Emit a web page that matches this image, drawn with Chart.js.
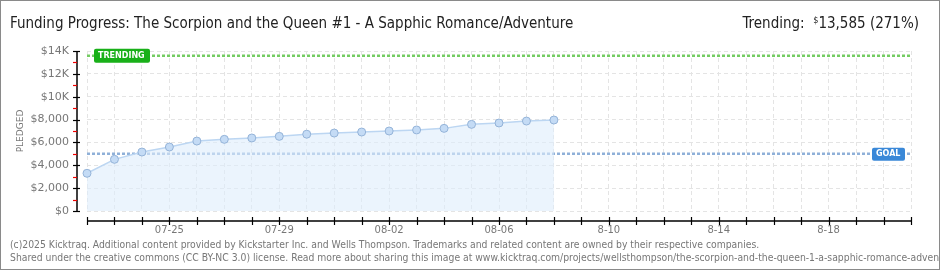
<!DOCTYPE html>
<html>
<head>
<meta charset="utf-8">
<script src="https://cdn.jsdelivr.net/npm/chart.js@4.4.1/dist/chart.umd.min.js"></script>
<style>
  html,body{margin:0;padding:0;background:#fff;}
  #wrap{position:relative;width:940px;height:270px;box-sizing:border-box;border:1px solid #8a8a8a;overflow:hidden;background:#fff;}
  canvas{position:absolute;left:0;top:0;}
  .t{position:absolute;white-space:nowrap;font-family:"Liberation Sans Narrow","DejaVu Sans Condensed","Liberation Sans",sans-serif;}
  #title{left:9px;top:13px;font-size:15px;color:#222;}
  #trend{right:20px;top:13px;font-size:15px;color:#222;}
  #trend sup{font-size:9px;vertical-align:5px;}
  .foot{left:9px;font-size:10.3px;color:#777;}
</style>
</head>
<body>
<div id="wrap">
  <canvas id="c" width="940" height="270"></canvas>
  <div class="t" id="title">Funding Progress: The Scorpion and the Queen #1 - A Sapphic Romance/Adventure</div>
  <div class="t" id="trend">Trending:&nbsp; <sup>$</sup>13,585 (271%)</div>
  <div class="t foot" style="top:237px">(c)2025 Kicktraq. Additional content provided by Kickstarter Inc. and Wells Thompson. Trademarks and related content are owned by their respective companies.</div>
  <div class="t foot" style="top:250px">Shared under the creative commons (CC BY-NC 3.0) license. Read more about sharing this image at www.kicktraq.com/projects/wellsthompson/the-scorpion-and-the-queen-1-a-sapphic-romance-adventure/</div>
</div>
<script>
const xLabels = ['07-22','07-23','07-24','07-25','07-26','07-27','07-28','07-29','07-30','07-31',
  '08-01','08-02','08-03','08-04','08-05','08-06','08-07','08-08','8-09','8-10',
  '8-11','8-12','8-13','8-14','8-15','8-16','8-17','8-18','8-19','8-20','8-21'];
const shownTicks = ['07-25','07-29','08-02','08-06','8-10','8-14','8-18'];
const pledged = [3300,4520,5160,5600,6120,6270,6390,6530,6720,6820,6910,7000,7090,7230,7580,7700,7870,7960];
const goalValue = 5000;
const trendingValue = 13585;
const yTickLabels = {0:'$0',2000:'$2,000',4000:'$4,000',6000:'$6,000',8000:'$8,000',10000:'$10K',12000:'$12K',14000:'$14K'};

const goalLine = xLabels.map(() => goalValue);
const trendLine = xLabels.map(() => trendingValue);

function roundRect(ctx,x,y,w,h,r){
  ctx.beginPath();
  ctx.moveTo(x+r,y);ctx.lineTo(x+w-r,y);ctx.quadraticCurveTo(x+w,y,x+w,y+r);
  ctx.lineTo(x+w,y+h-r);ctx.quadraticCurveTo(x+w,y+h,x+w-r,y+h);
  ctx.lineTo(x+r,y+h);ctx.quadraticCurveTo(x,y+h,x,y+h-r);
  ctx.lineTo(x,y+r);ctx.quadraticCurveTo(x,y,x+r,y);ctx.closePath();
}

const axesPlugin = {
  id:'axesPlugin',
  afterDraw(chart){
    const ctx = chart.ctx, ca = chart.chartArea;
    const xs = chart.scales.x, ys = chart.scales.y;
    ctx.save();
    const ay = ca.bottom + 10;
    ctx.strokeStyle = '#000'; ctx.lineWidth = 1.5;
    ctx.beginPath(); ctx.moveTo(ca.left, ay); ctx.lineTo(ca.right, ay); ctx.stroke();
    ctx.lineWidth = 1.2;
    for (let i = 0; i < xLabels.length; i++) {
      const px = Math.round(xs.getPixelForValue(i)) + 0.5;
      ctx.beginPath(); ctx.moveTo(px, ay - 4); ctx.lineTo(px, ay + 4); ctx.stroke();
    }
    const ax = ca.left - 10;
    ctx.lineWidth = 1.5;
    ctx.beginPath(); ctx.moveTo(ax, ys.getPixelForValue(14000)); ctx.lineTo(ax, ys.getPixelForValue(0)); ctx.stroke();
    for (let v = 0; v <= 14000; v += 1000) {
      const py = Math.round(ys.getPixelForValue(v)) + 0.5;
      ctx.lineWidth = 1.2;
      if (v % 2000 === 0) { ctx.strokeStyle = '#000'; ctx.beginPath(); ctx.moveTo(ax - 4, py); ctx.lineTo(ax + 3, py); ctx.stroke(); }
      else { ctx.strokeStyle = '#e00'; ctx.beginPath(); ctx.moveTo(ax - 4, py); ctx.lineTo(ax, py); ctx.stroke(); }
    }
    ctx.font = 'bold 8px "DejaVu Sans", sans-serif';
    ctx.textBaseline = 'middle';
    const ty = ys.getPixelForValue(trendingValue);
    ctx.fillStyle = '#19b019';
    roundRect(ctx, ca.left + 7, ty - 7, 56, 14, 2); ctx.fill();
    ctx.fillStyle = '#fff'; ctx.textAlign = 'left';
    ctx.fillText('TRENDING', ca.left + 11, ty + 0.5);
    const gy = ys.getPixelForValue(goalValue);
    ctx.fillStyle = '#3a88d8';
    roundRect(ctx, ca.right - 39, gy - 6, 33, 13, 2); ctx.fill();
    ctx.fillStyle = '#fff';
    ctx.fillText('GOAL', ca.right - 35, gy + 0.5);
    ctx.restore();
  }
};

new Chart(document.getElementById('c'), {
  type:'line',
  data:{
    labels:xLabels,
    datasets:[
      {data:trendLine, borderColor:'#74cc62', borderWidth:2.5, borderDash:[3,2], pointRadius:0, fill:false, order:2},
      {data:goalLine, borderColor:'#8fb0d8', borderWidth:2.5, borderDash:[3,2], pointRadius:0, fill:false, order:2},
      {data:pledged, borderColor:'#bcd6f2', borderWidth:1.5, backgroundColor:'rgba(222,236,252,0.6)', fill:'origin',
       pointRadius:4, pointBackgroundColor:'#c4dbf5', pointBorderColor:'#94b3d8', pointBorderWidth:1, tension:0, order:1}
    ]
  },
  options:{
    responsive:false, animation:false, devicePixelRatio:1,
    layout:{padding:{left:0,right:30,top:50,bottom:0}},
    plugins:{legend:{display:false}, tooltip:{enabled:false}},
    scales:{
      x:{
        offset:false,
        afterFit(s){ s.height = 60; },
        border:{display:false, dash:[4,3]},
        grid:{color:'#e4e4e4', drawTicks:false, lineWidth:1},
        ticks:{autoSkip:false, maxRotation:0, padding:13, color:'#777', font:{family:'"DejaVu Sans", sans-serif', size:10},
          callback(v, i){ const l = xLabels[i]; return shownTicks.includes(l) ? l : ''; }}
      },
      y:{
        min:0, max:14000,
        afterFit(s){ s.width = 86; },
        border:{display:false, dash:[4,3]},
        grid:{color:'#e4e4e4', drawTicks:false, lineWidth:1},
        title:{display:true, text:'PLEDGED', color:'#777', padding:{top:14, bottom:0},
          font:{family:'"DejaVu Sans", sans-serif', size:9}},
        ticks:{stepSize:2000, padding:18, color:'#777', font:{family:'"DejaVu Sans", sans-serif', size:11},
          callback(v){ return yTickLabels[v] !== undefined ? yTickLabels[v] : ''; }}
      }
    }
  },
  plugins:[axesPlugin]
});
</script>
</body>
</html>
